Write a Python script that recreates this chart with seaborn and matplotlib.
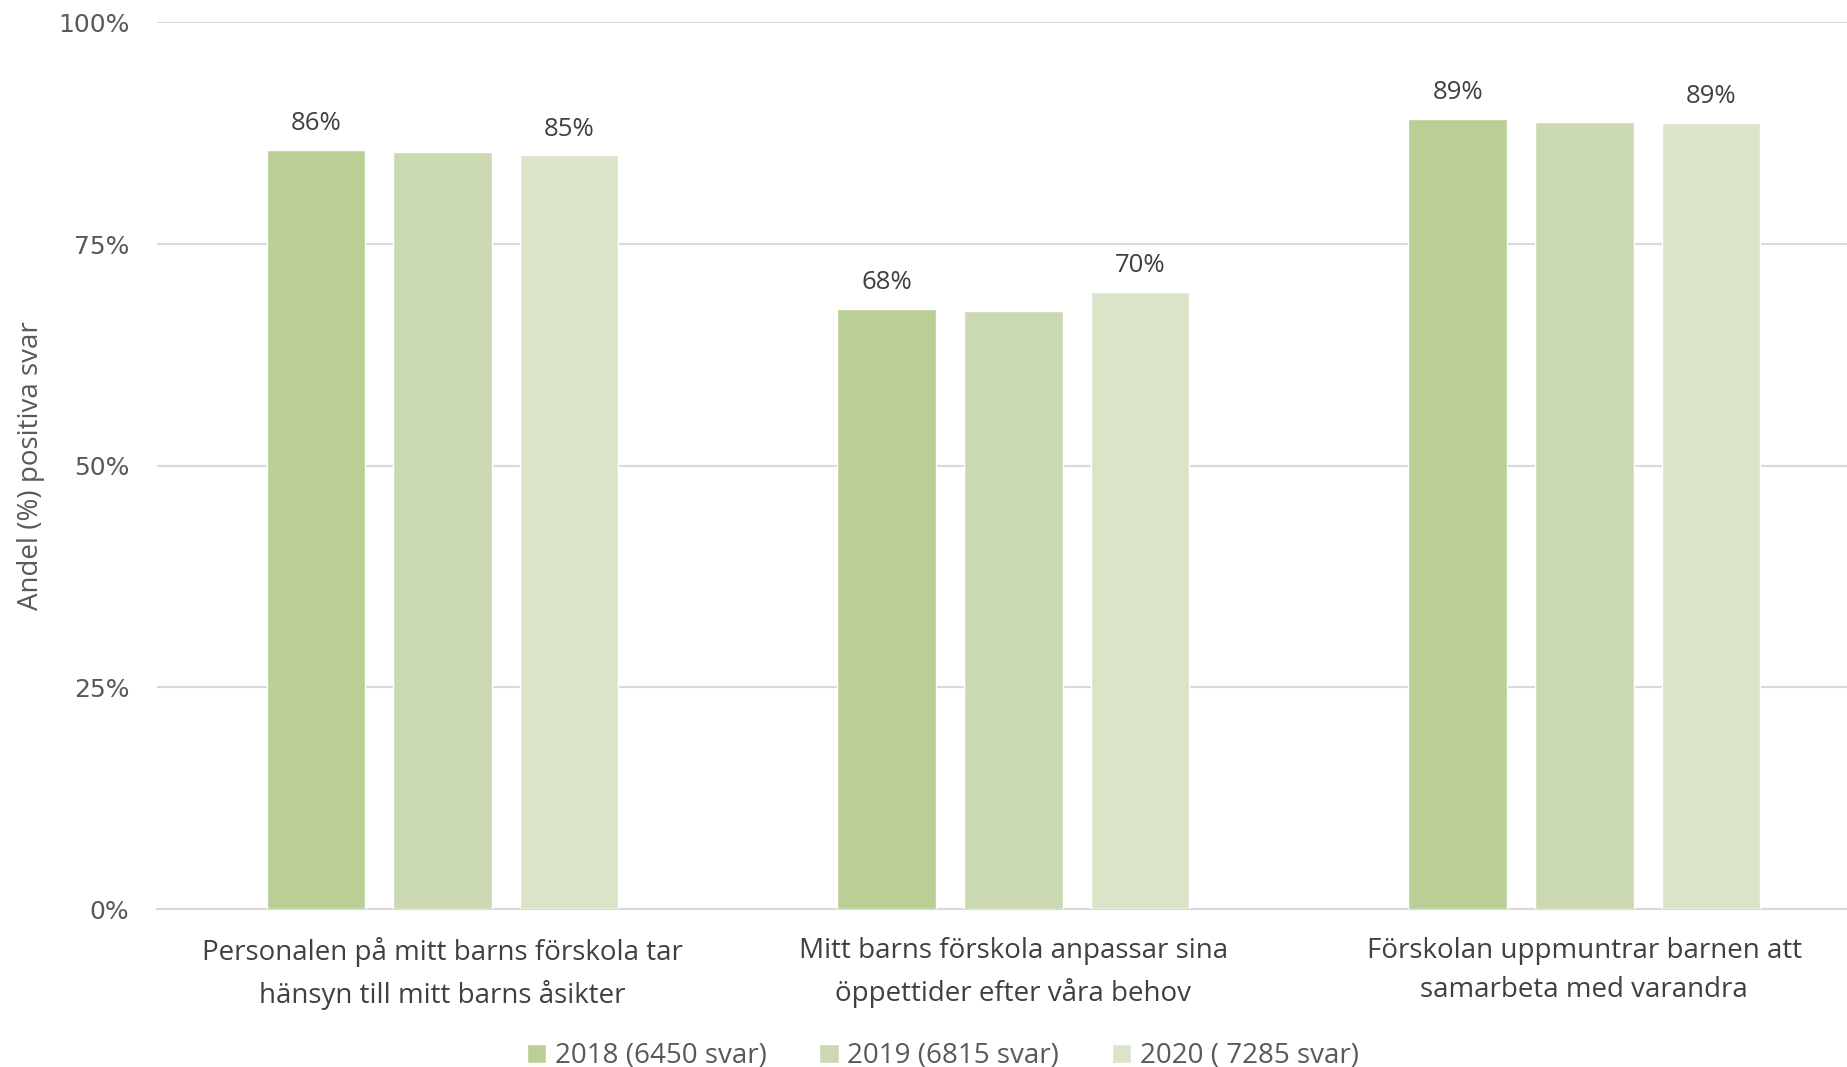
import matplotlib

matplotlib.use("Agg")
import matplotlib.pyplot as plt
import pandas as pd
import seaborn as sns

# data
questions = [
    "Personalen på mitt barns förskola tar\nhänsyn till mitt barns åsikter",
    "Mitt barns förskola anpassar sina\nöppettider efter våra behov",
    "Förskolan uppmuntrar barnen att\nsamarbeta med varandra",
]
years = ["2018 (6450 svar)", "2019 (6815 svar)", "2020 ( 7285 svar)"]
v2018 = [85.6, 67.7, 89.1]
v2019 = [85.4, 67.5, 88.8]
v2020 = [85.0, 69.6, 88.7]
labelled = {0: v2018, 2: v2020}

palette = ["#b9cf96", "#cad9b1", "#dae4c9"]

sns.set_theme(style="white")
plt.rcParams["font.family"] = ["Open Sans", "DejaVu Sans"]

df = pd.DataFrame(
    {
        "fraga": questions * 3,
        "ar": [y for y in years for _ in questions],
        "andel": v2018 + v2019 + v2020,
    }
)

fig = plt.figure(figsize=(18.47, 10.67), dpi=100)
ax = fig.add_axes([0.085, 0.148, 0.915, 0.831])

sns.barplot(
    data=df,
    x="fraga",
    y="andel",
    hue="ar",
    palette=palette,
    width=0.665,
    gap=0.22,
    saturation=1,
    errorbar=None,
    ax=ax,
    zorder=3,
)

for i, vals in labelled.items():
    ax.bar_label(
        ax.containers[i],
        labels=[f"{round(v):.0f}%" for v in vals],
        padding=10,
        fontsize=18.5,
        color="#404040",
    )

ax.set_ylim(0, 100)
ax.set_xlim(-0.5, 2.46)
ax.set_yticks([0, 25, 50, 75, 100])
ax.set_yticklabels(
    ["0%", "25%", "50%", "75%", "100%"], fontsize=18, color="#595959", family="DejaVu Sans"
)
ax.yaxis.grid(True, color="#d9d9d9", linewidth=1.5, zorder=0)
ax.tick_params(axis="y", length=0, pad=20)
ax.tick_params(axis="x", length=0, pad=20, labelsize=20, labelcolor="#404040")
for lbl in ax.get_xticklabels():
    lbl.set_linespacing(1.55)
for s in ["top", "right", "left"]:
    ax.spines[s].set_visible(False)
ax.spines["bottom"].set_color("#d9d9d9")
ax.spines["bottom"].set_linewidth(1.5)

ax.set_xlabel("")
ax.set_ylabel("Andel (%) positiva svar", fontsize=20, color="#595959")
ax.yaxis.set_label_coords(-0.066, 0.5)

ax.legend(
    loc="lower center",
    bbox_to_anchor=(0.465, -0.21),
    bbox_transform=ax.transAxes,
    ncol=3,
    frameon=False,
    fontsize=20,
    handlelength=0.7,
    handleheight=0.7,
    handletextpad=0.3,
    columnspacing=1.9,
    labelcolor="#595959",
)

fig.savefig("out.png", dpi=100)
